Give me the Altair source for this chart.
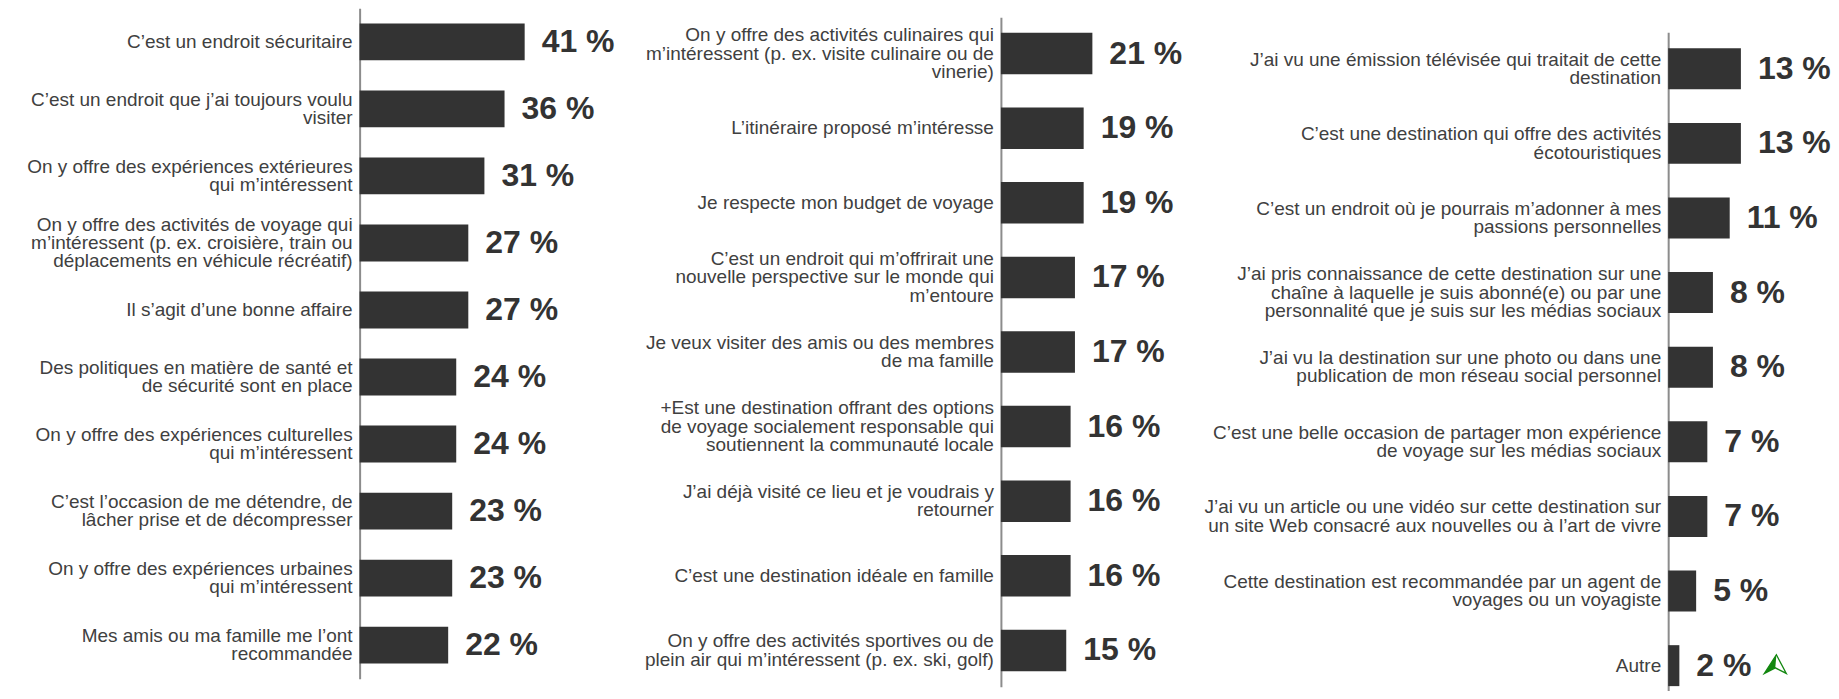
import altair as alt
import pandas as pd

FONT = "Liberation Sans"

labels1 = [
    "C’est un endroit sécuritaire",
    "C’est un endroit que j’ai toujours voulu|visiter",
    "On y offre des expériences extérieures|qui m’intéressent",
    "On y offre des activités de voyage qui|m’intéressent (p. ex. croisière, train ou|déplacements en véhicule récréatif)",
    "Il s’agit d’une bonne affaire",
    "Des politiques en matière de santé et|de sécurité sont en place",
    "On y offre des expériences culturelles|qui m’intéressent",
    "C’est l’occasion de me détendre, de|lâcher prise et de décompresser",
    "On y offre des expériences urbaines|qui m’intéressent",
    "Mes amis ou ma famille me l’ont|recommandée",
]
values1 = [41, 36, 31, 27, 27, 24, 24, 23, 23, 22]
sig1 = [False] * 10

labels2 = [
    "On y offre des activités culinaires qui|m’intéressent (p. ex. visite culinaire ou de|vinerie)",
    "L’itinéraire proposé m’intéresse",
    "Je respecte mon budget de voyage",
    "C’est un endroit qui m’offrirait une|nouvelle perspective sur le monde qui|m’entoure",
    "Je veux visiter des amis ou des membres|de ma famille",
    "+Est une destination offrant des options|de voyage socialement responsable qui|soutiennent la communauté locale",
    "J’ai déjà visité ce lieu et je voudrais y|retourner",
    "C’est une destination idéale en famille",
    "On y offre des activités sportives ou de|plein air qui m’intéressent (p. ex. ski, golf)",
]
values2 = [21, 19, 19, 17, 17, 16, 16, 16, 15]
sig2 = [False] * 9

labels3 = [
    "J’ai vu une émission télévisée qui traitait de cette|destination",
    "C’est une destination qui offre des activités|écotouristiques",
    "C’est un endroit où je pourrais m’adonner à mes|passions personnelles",
    "J’ai pris connaissance de cette destination sur une|chaîne à laquelle je suis abonné(e) ou par une|personnalité que je suis sur les médias sociaux",
    "J’ai vu la destination sur une photo ou dans une|publication de mon réseau social personnel",
    "C’est une belle occasion de partager mon expérience|de voyage sur les médias sociaux",
    "J’ai vu un article ou une vidéo sur cette destination sur|un site Web consacré aux nouvelles ou à l’art de vivre",
    "Cette destination est recommandée par un agent de|voyages ou un voyagiste",
    "Autre",
]
values3 = [13, 13, 11, 8, 8, 7, 7, 5, 2]
sig3 = [False] * 8 + [True]

HEIGHT = 683
BAR = "#333333"
LINE_H = 18.3
# significance arrow, drawn to the right of the value label (path units: 1 = 11 px)
ARROW_FILL = "M8.83,-0.99L7.73,0.71L8.73,0.2Z"
ARROW_LINE = "M8.83,-0.99L9.73,0.71L8.73,0.2L7.73,0.71Z"


def panel(labels, values, flags, width, xmax, yrange, pin, pout, align):
    df = pd.DataFrame({
        "label": labels,
        "value": values,
        "txt": [f"{v} %" for v in values],
        "sig": flags,
        "nlines": [len(s.split("|")) for s in labels],
    })
    y = alt.Y(
        "label:N",
        sort=labels,
        scale=alt.Scale(range=yrange, paddingInner=pin, paddingOuter=pout, align=align),
        axis=alt.Axis(
            title=None,
            labels=False,
            ticks=False,
            grid=False,
            domainColor="#8c8c8c",
            domainWidth=2,
        ),
    )
    x = alt.X("value:Q", scale=alt.Scale(domain=[0, xmax]), axis=None)
    base = alt.Chart(df).encode(x=x, y=y)
    bars = base.mark_bar(color=BAR)
    text = base.mark_text(
        align="left", baseline="middle", dx=17, font=FONT,
        fontSize=32, fontWeight="bold", color="#333333",
    ).encode(text="txt:N")
    layers = [bars, text]
    for n in sorted(set(len(s.split("|")) for s in labels)):
        layers.append(
            alt.Chart(df).transform_filter(f"datum.nlines == {n}")
            .mark_text(
                align="right", baseline="middle", lineBreak="|", lineHeight=LINE_H,
                dx=-7, dy=-(n - 1) * LINE_H / 2, font=FONT, fontSize=19, color="#404040",
            )
            .encode(x=alt.value(0), y=y, text="label:N")
        )
    if any(flags):
        sig = base.transform_filter("datum.sig")
        layers.append(sig.mark_point(shape=ARROW_FILL, filled=True, size=484,
                                     color="#12870f", opacity=1))
        layers.append(sig.mark_point(shape=ARROW_LINE, filled=False, size=484,
                                     color="#12870f", strokeWidth=1.3, opacity=1))
    return alt.layer(*layers).properties(width=width, height=HEIGHT)


p1 = panel(labels1, values1, sig1, 642, 159.3, [0, 671], 0.45, 0.225, 0.5)
p2 = panel(labels2, values2, sig2, 668, 153.2, [9, 679], 0.444, 0.207, 0.5)
p3 = panel(labels3, values3, sig3, 161, 28.75, [24, 683], 0.451, 0.137, 0.78)

chart = alt.hconcat(p1, p2, p3, spacing=0, bounds="flush").properties(
    padding={"left": 19, "top": 0, "right": 0, "bottom": 0}
).configure_view(stroke=None)

chart.save("out.html", embed_options={"renderer": "svg", "actions": False})
